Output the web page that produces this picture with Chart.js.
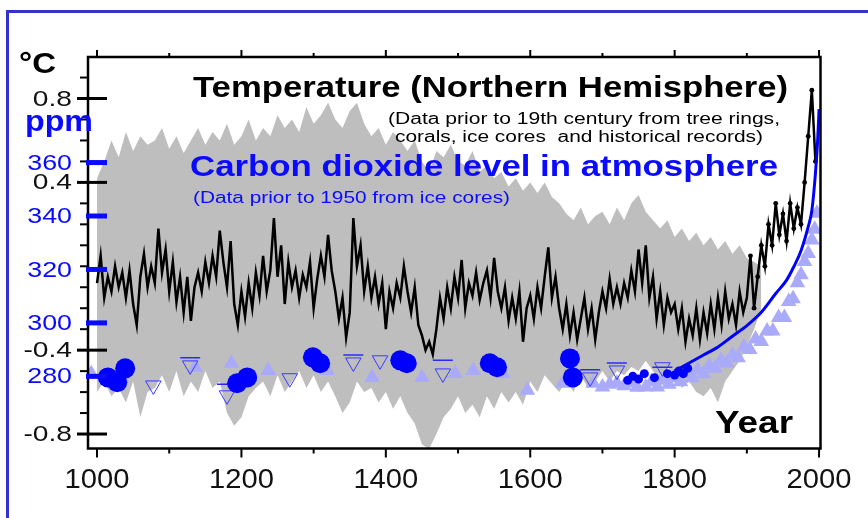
<!DOCTYPE html>
<html>
<head>
<meta charset="utf-8">
<script src="https://cdn.jsdelivr.net/npm/chart.js@4/dist/chart.umd.min.js"></script>
<style>
  html, body { margin: 0; padding: 0; background: #fff; }
  canvas { display: block; }
</style>
</head>
<body>
<canvas id="climate" width="868" height="518"></canvas>
<script>
// reconstructed temperature, 5-year steps from 1000 (deg C anomaly)
const lineStart = 1000, lineStep = 5;
const tempLine = [
  -0.08, 0.05, -0.15, -0.05, -0.12, 0.0, -0.1, -0.03, -0.15, -0.02, -0.18, -0.28, -0.05, 0.06, -0.1, 0.0, -0.08, 0.18, -0.03, 0.08,
  -0.12, 0.02, -0.17, -0.05, -0.22, -0.05, -0.26, -0.1, -0.03, -0.12, 0.02, -0.08, 0.05, -0.05, 0.17, 0.02, -0.1, 0.12, -0.18, -0.28,
  -0.12, -0.24, -0.08, -0.2, -0.03, -0.14, 0.05, -0.12, -0.02, 0.23, -0.05, 0.1, -0.18, 0.02, -0.1, -0.02, -0.15, -0.04, -0.1, 0.02,
  -0.2, -0.06, 0.05, -0.05, 0.15, -0.02, -0.12, -0.25, -0.15, -0.34, -0.22, 0.23, 0.0, 0.1, -0.12, 0.0, -0.15, -0.05, -0.18, -0.08,
  -0.3, -0.12, -0.2, -0.08, -0.15, 0.0, -0.12, -0.22, -0.1, -0.28, -0.33, -0.4, -0.36, -0.42, -0.3, -0.15, -0.25, -0.1, -0.2, -0.05,
  -0.15, 0.03, -0.2, -0.08, -0.14, -0.03, -0.16, -0.08, -0.02, -0.15, 0.04, -0.12, -0.2, -0.1, -0.26, -0.15, -0.25, -0.12, -0.36, -0.2,
  -0.14, -0.25, -0.1, -0.2, -0.05, 0.09, -0.15, -0.05, -0.2, -0.3, -0.18, -0.33, -0.22, -0.35, -0.25, -0.15, -0.3, -0.2, -0.35, -0.22,
  -0.12, -0.2, -0.06, -0.18, -0.1, -0.18, -0.08, -0.15, -0.02, -0.12, 0.08, -0.08, 0.1, -0.15, -0.05, -0.25, -0.12, -0.28, -0.15, -0.22,
  -0.18, -0.3, -0.2, -0.36, -0.25, -0.33, -0.2, -0.35, -0.22, -0.32, -0.18, -0.3, -0.15, -0.28, -0.12, -0.25, -0.18, -0.28, -0.12, -0.22,
  -0.15, 0.05, -0.2, -0.05, 0.1, 0.0, 0.2, 0.1, 0.3, 0.15, 0.25, 0.12, 0.3, 0.18, 0.28, 0.2, 0.4, 0.62, 0.84, 0.5
];

// uncertainty range, 10-year steps from 1000
const bandStart = 1000, bandStep = 10;
const bandHi = [
  0.42, 0.5, 0.6, 0.52, 0.64, 0.55, 0.62, 0.58, 0.6, 0.66,
  0.56, 0.62, 0.54, 0.6, 0.66, 0.58, 0.64, 0.6, 0.68, 0.58,
  0.62, 0.7, 0.6, 0.66, 0.62, 0.72, 0.66, 0.7, 0.64, 0.76,
  0.68, 0.72, 0.78, 0.7, 0.66, 0.74, 0.78, 0.68, 0.62, 0.66,
  0.58, 0.64, 0.6, 0.55, 0.6, 0.5, 0.45, 0.55, 0.52, 0.58,
  0.5, 0.48, 0.55, 0.45, 0.48, 0.42, 0.45, 0.38, 0.42, 0.36,
  0.4, 0.35, 0.4, 0.33, 0.3, 0.25, 0.22, 0.28, 0.2, 0.24,
  0.26, 0.2, 0.28, 0.22, 0.3, 0.34, 0.26, 0.22, 0.18, 0.22,
  0.14, 0.18, 0.12, 0.16, 0.1, 0.14, 0.08, 0.12, 0.06, 0.1,
  0.04, 0.02, 0.0
];
const bandLo = [
  -0.6, -0.55, -0.62, -0.58, -0.65, -0.55, -0.72, -0.6, -0.58, -0.52,
  -0.6, -0.5, -0.62, -0.55, -0.6, -0.5, -0.58, -0.55, -0.7, -0.76,
  -0.72, -0.62, -0.58, -0.55, -0.62, -0.52, -0.6, -0.55, -0.5, -0.58,
  -0.52, -0.6, -0.55, -0.62, -0.7, -0.65, -0.55, -0.6, -0.58, -0.65,
  -0.6, -0.68, -0.62, -0.7, -0.75, -0.85, -0.87, -0.8, -0.72, -0.68,
  -0.62, -0.7, -0.66, -0.72, -0.62, -0.68, -0.6, -0.65, -0.6, -0.66,
  -0.55, -0.6, -0.52, -0.56, -0.6, -0.55, -0.6, -0.52, -0.58, -0.55,
  -0.5, -0.55, -0.5, -0.52, -0.48, -0.5, -0.45, -0.5, -0.55, -0.48,
  -0.52, -0.58, -0.55, -0.6, -0.62, -0.58, -0.65, -0.55, -0.5, -0.45,
  -0.38, -0.3, -0.2
];

// CO2 (ppm)
const co2Years = [1800, 1820, 1840, 1860, 1880, 1900, 1920, 1940, 1955, 1965, 1975, 1985, 1990, 1995, 1998, 2000];
const co2Curve = [282, 285, 288, 291, 295, 299, 304, 311, 316, 321, 327, 336, 342, 356, 368, 380];

const coreYears = [1015, 1028, 1039, 1194, 1208, 1299, 1309, 1420, 1429, 1544, 1554, 1655, 1659];
const coreVals = [279.6, 277.8, 283, 277.4, 279.6, 287.1, 284.9, 286, 284.9, 284.9, 283.4, 286.7, 279.6];

const dotYears = [1735, 1742, 1750, 1758, 1772, 1790, 1800, 1806, 1812, 1818];
const dotVals = [278.5, 280, 279, 281, 279.5, 281, 280.5, 282, 281, 283];

const openYears = [1078, 1129, 1180, 1267, 1355, 1392, 1479, 1683, 1720, 1783];
const openVals = [276.6, 284.1, 272.9, 279.3, 285.2, 286, 281.1, 279.6, 282.2, 283.4];
const barYears = [1129, 1180, 1355, 1479, 1683, 1720, 1783];
const barVals = [287, 277, 288, 286, 282.5, 285, 283.4];

const triYears = [992, 1033, 1136, 1186, 1237, 1319, 1381, 1450, 1496, 1521, 1562, 1596, 1645, 1687, 1700, 1710, 1720, 1730, 1740, 1748,
  1760, 1768, 1776, 1784, 1792, 1800, 1808, 1816, 1824, 1832, 1840, 1848, 1856, 1864, 1872, 1880, 1888, 1896,
  1904, 1912, 1920, 1928, 1936, 1944, 1952, 1958, 1964, 1970, 1975, 1980, 1985, 1990, 1994, 1997];
const triVals = [281, 279.6, 283.4, 284.9, 282.2, 282.2, 279.6, 279.6, 281.1, 282.2, 281.1, 274.8, 277.4, 277.4, 276, 277, 277.4, 276.5, 277.5, 275.9,
  276, 278, 276, 278.5, 277, 279.5, 278, 281, 279.5, 282.5, 281, 284, 283, 286, 285, 288, 287, 291,
  290, 294, 293, 297, 297, 302, 302, 308, 309, 315, 318, 323, 326, 331, 335, 341];

// axis labels
const yearLabels = [1000, 1200, 1400, 1600, 1800, 2000];
const tempLabels = [-0.8, -0.4, 0.4, 0.8];
const ppmLabels = [280, 300, 320, 340, 360];

const FONT = '"Liberation Sans", Arial, sans-serif';
const BLUE = '#0a0aff';

const seq = (start, step, n) => Array.from({ length: n }, (_, i) => start + i * step);
const pts = (xs, ys) => xs.map((x, i) => ({ x, y: ys[i] }));

function drawText(ctx, str, x, y, font, color, align, sx) {
  ctx.save();
  ctx.font = font;
  ctx.fillStyle = color;
  ctx.textAlign = align;
  ctx.textBaseline = 'middle';
  ctx.translate(x, y);
  ctx.scale(sx, 1);
  ctx.fillText(str, 0, 0);
  ctx.restore();
}

// left-aligned text stretched to a given width
function fitText(ctx, str, x, y, w, font, color) {
  ctx.save();
  ctx.font = font;
  ctx.fillStyle = color;
  ctx.textAlign = 'left';
  ctx.textBaseline = 'alphabetic';
  const m = ctx.measureText(str).width;
  ctx.translate(x, y);
  ctx.scale(w / m, 1);
  ctx.fillText(str, 0, 0);
  ctx.restore();
}

function seg(ctx, x1, y1, x2, y2) {
  ctx.beginPath();
  ctx.moveTo(x1, y1);
  ctx.lineTo(x2, y2);
  ctx.stroke();
}

const axesPlugin = {
  id: 'axesPlugin',
  afterDatasetsDraw(chart) {
    const { ctx, chartArea: a } = chart;
    const x = chart.scales.x, yT = chart.scales.yT, yC = chart.scales.yC;
    ctx.save();

    // headings inside the plot
    fitText(ctx, 'Temperature (Northern Hemisphere)', 193, 97, 595, 'bold 30px ' + FONT, '#000');
    fitText(ctx, '(Data prior to 19th century from tree rings,', 388, 124, 392, '16px ' + FONT, '#000');
    fitText(ctx, 'corals, ice cores  and historical records)', 395, 142, 368, '16px ' + FONT, '#000');
    fitText(ctx, 'Carbon dioxide level in atmosphere', 190, 176, 588, 'bold 29px ' + FONT, BLUE);
    fitText(ctx, '(Data prior to 1950 from ice cores)', 193, 203, 317, '16px ' + FONT, BLUE);
    fitText(ctx, 'Year', 715, 433, 78, 'bold 31px ' + FONT, '#000');

    // frame
    ctx.strokeStyle = '#000';
    ctx.lineWidth = 2.5;
    ctx.strokeRect(a.left, a.top, a.right - a.left, a.bottom - a.top);

    // year ticks, top and bottom
    ctx.lineWidth = 2;
    for (let yr = 1000; yr <= 2000; yr += 100) {
      const px = x.getPixelForValue(yr);
      const major = yr % 200 === 0;
      seg(ctx, px, a.bottom, px, a.bottom + (major ? 9 : 5));
      seg(ctx, px, a.top, px, a.top - (major ? 7 : 4));
    }
    yearLabels.forEach(yr => {
      drawText(ctx, String(yr), x.getPixelForValue(yr), 481, '27px ' + FONT, '#111', 'center', 1.08);
    });

    // temperature ticks every 0.1
    for (let i = -8; i <= 9; i++) {
      const py = yT.getPixelForValue(i / 10);
      if (Math.abs(i) === 4 || Math.abs(i) === 8) {
        ctx.lineWidth = 3;
        seg(ctx, a.left - 11, py, a.left + 19, py);
      } else {
        ctx.lineWidth = 2;
        seg(ctx, a.left - 8, py, a.left, py);
      }
    }
    tempLabels.forEach(t => {
      drawText(ctx, String(t), 72, yT.getPixelForValue(t) + 1, '22px ' + FONT, '#111', 'right', 1.28);
    });

    // CO2 ticks
    ctx.fillStyle = BLUE;
    ppmLabels.forEach(p => {
      const py = yC.getPixelForValue(p);
      ctx.fillRect(a.left - 2, py - 2.5, 21, 5);
      drawText(ctx, String(p), 72, py + 1, '22px ' + FONT, BLUE, 'right', 1.22);
    });

    // unit labels
    fitText(ctx, '\u00b0C', 19, 73, 37, 'bold 29px ' + FONT, '#000');
    fitText(ctx, 'ppm', 25, 131, 68, 'bold 29px ' + FONT, BLUE);

    // outer border
    ctx.fillStyle = '#3434cc';
    ctx.fillRect(6, 10, 3, 508);
    ctx.fillRect(6, 10, 862, 3);
    ctx.restore();
  }
};

const ctx = document.getElementById('climate').getContext('2d');

const chart = new Chart(ctx, {
  type: 'line',
  data: {
    datasets: [
      {
        data: pts(co2Years, co2Curve), yAxisID: 'yC', order: 1,
        borderColor: '#0000ff', borderWidth: 3, pointRadius: 0, cubicInterpolationMode: 'monotone'
      },
      {
        data: pts(coreYears, coreVals), yAxisID: 'yC', order: 2, showLine: false,
        pointRadius: 10, pointBackgroundColor: '#0000ff', pointBorderWidth: 0
      },
      {
        data: pts(dotYears, dotVals), yAxisID: 'yC', order: 2, showLine: false,
        pointRadius: 4.5, pointBackgroundColor: '#0000ff', pointBorderWidth: 0
      },
      {
        data: pts(barYears, barVals), yAxisID: 'yC', order: 3, showLine: false,
        pointStyle: 'line', pointRadius: 10, pointBorderColor: '#2a2aff', pointBorderWidth: 1.5
      },
      {
        data: pts(openYears, openVals), yAxisID: 'yC', order: 3, showLine: false,
        pointStyle: 'triangle', pointRotation: 180, pointRadius: 9,
        pointBackgroundColor: 'rgba(0,0,0,0)', pointBorderColor: '#3a3aff', pointBorderWidth: 1
      },
      {
        data: pts(triYears, triVals), yAxisID: 'yC', order: 4, showLine: false,
        pointStyle: 'triangle', pointRadius: 9, pointBackgroundColor: 'rgb(170,170,250)', pointBorderWidth: 0
      },
      {
        data: pts(seq(lineStart, lineStep, tempLine.length), tempLine), yAxisID: 'yT', order: 5,
        borderColor: '#000', borderWidth: 2.5, pointBackgroundColor: '#000', pointBorderWidth: 0,
        pointRadius: c => (c.raw && c.raw.x >= 1905 ? 2.4 : 0)
      },
      {
        data: pts(seq(bandStart, bandStep, bandHi.length), bandHi), yAxisID: 'yT', order: 6,
        borderColor: 'rgba(0,0,0,0)', borderWidth: 1, pointRadius: 0,
        fill: '+1', backgroundColor: 'rgb(190,190,190)'
      },
      {
        data: pts(seq(bandStart, bandStep, bandLo.length), bandLo), yAxisID: 'yT', order: 7,
        borderColor: 'rgba(0,0,0,0)', borderWidth: 1, pointRadius: 0, fill: false
      }
    ]
  },
  options: {
    responsive: false,
    animation: false,
    layout: { padding: { left: 88, top: 57, right: 47.5, bottom: 69.5 } },
    plugins: { legend: { display: false }, tooltip: { enabled: false } },
    scales: {
      x: { type: 'linear', min: 987.5, max: 2002, display: false },
      yT: { type: 'linear', min: -0.869, max: 0.998, display: false },
      yC: { type: 'linear', min: 253, max: 399.5, display: false }
    }
  },
  plugins: [axesPlugin]
});
</script>
</body>
</html>
